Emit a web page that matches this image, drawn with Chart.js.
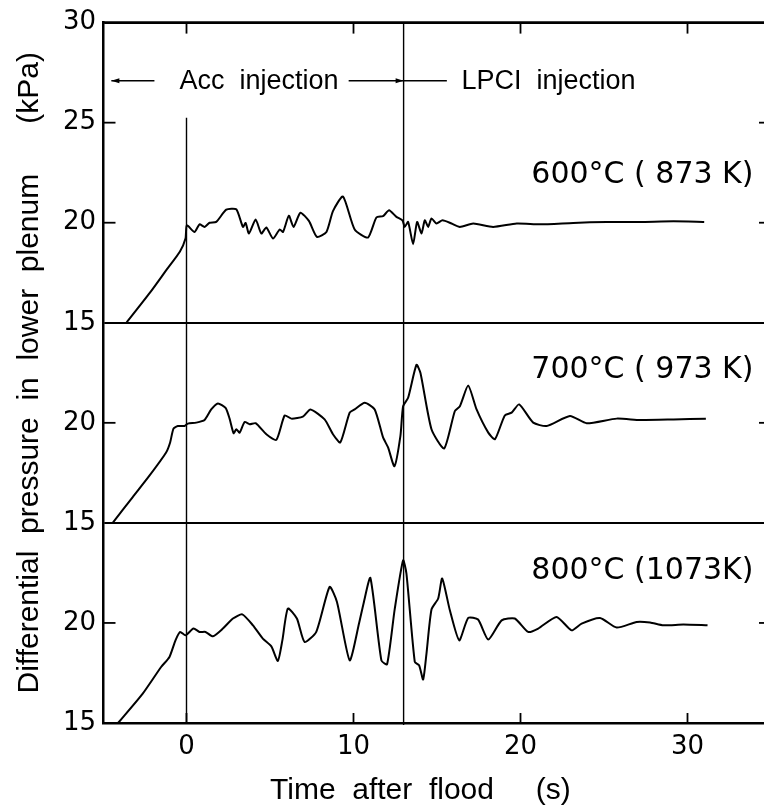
<!DOCTYPE html>
<html>
<head>
<meta charset="utf-8">
<script src="https://cdn.jsdelivr.net/npm/chart.js@4.4.0/dist/chart.umd.min.js"></script>
<style>
html, body { margin: 0; padding: 0; overflow: hidden; background: #fff; }
#wrap { position: relative; width: 772px; height: 809px; }
</style>
</head>
<body>
<div id="wrap"><canvas id="c"></canvas></div>
<script>
// ---------- data ----------
const xTicks = [0, 10, 20, 30];
const topTicks = [15, 20, 25, 30];
const midTicks = [15, 20];
const botTicks = [15, 20];

const t600 = [-3.6, -2.2, -1.2, -0.4, -0.06, 0.02, 0.48, 0.78, 1.08, 1.38, 1.78, 2.38, 2.98, 3.38, 3.54, 3.74, 4.14, 4.48, 4.78, 5.18, 5.58, 5.78, 6.13, 6.41, 6.82, 7.33, 7.81, 8.38, 8.77, 9.37, 10.07, 10.87, 11.37, 11.77, 12.13, 12.57, 12.93, 13.07, 13.27, 13.57, 13.81, 14.07, 14.27, 14.47, 14.67, 14.97, 15.33, 15.87, 16.37, 17.17, 18.36, 19.77, 21.17, 23.16, 25.16, 27.16, 29.16, 31.0];
const p600 = [15.0, 16.49, 17.64, 18.55, 19.21, 19.87, 19.54, 19.92, 19.79, 20.0, 20.04, 20.65, 20.67, 19.79, 19.99, 19.46, 20.16, 19.46, 19.76, 19.21, 19.66, 19.54, 20.35, 19.79, 20.5, 20.09, 19.29, 19.54, 20.58, 21.31, 19.66, 19.26, 20.26, 20.33, 20.62, 20.29, 20.12, 19.79, 20.04, 18.93, 20.04, 19.46, 20.12, 19.79, 20.21, 19.96, 20.12, 19.96, 19.79, 19.96, 19.79, 19.96, 19.92, 19.99, 20.04, 20.04, 20.07, 20.04];

const t700 = [-4.42, -3.22, -2.22, -1.22, -0.98, -0.78, -0.52, -0.12, 0.08, 0.58, 1.08, 1.48, 1.88, 2.34, 2.58, 2.82, 2.98, 3.18, 3.48, 3.78, 4.14, 4.78, 5.38, 5.88, 6.28, 6.97, 7.42, 8.27, 8.77, 9.21, 9.77, 10.07, 10.67, 11.27, 11.77, 12.07, 12.45, 12.81, 12.97, 13.27, 13.77, 14.01, 14.67, 15.43, 16.07, 16.37, 16.87, 17.37, 18.07, 18.47, 19.06, 19.47, 19.92, 20.76, 21.56, 22.96, 23.96, 25.76, 27.16, 29.16, 31.1];
const p700 = [15.0, 16.29, 17.36, 18.52, 19.02, 19.71, 19.84, 19.84, 19.96, 20.01, 20.14, 20.67, 20.97, 20.75, 20.21, 19.48, 19.68, 19.51, 20.04, 19.93, 19.98, 19.43, 19.15, 20.37, 20.21, 20.31, 20.67, 20.17, 19.43, 19.02, 20.51, 20.67, 21.0, 20.67, 19.27, 18.77, 17.83, 19.35, 20.83, 21.25, 22.9, 22.49, 19.68, 18.72, 20.59, 20.83, 21.86, 20.67, 19.51, 19.18, 20.37, 20.51, 20.92, 20.01, 19.84, 20.34, 19.98, 20.21, 20.14, 20.17, 20.21];

const t800 = [-4.1, -2.62, -1.52, -1.02, -0.66, -0.38, -0.06, 0.42, 0.78, 1.14, 1.58, 2.18, 2.78, 3.34, 3.98, 4.57, 5.08, 5.47, 5.74, 6.07, 6.61, 7.07, 7.77, 8.57, 9.01, 9.77, 10.33, 10.61, 11.01, 11.67, 12.01, 12.47, 12.97, 13.17, 13.67, 13.93, 14.17, 14.37, 14.67, 15.07, 15.31, 15.77, 16.33, 16.87, 17.46, 18.07, 18.87, 19.66, 20.46, 21.06, 22.16, 23.06, 23.66, 24.76, 25.76, 26.96, 27.76, 28.56, 29.75, 31.2];
const p800 = [15.0, 16.47, 17.8, 18.3, 19.13, 19.55, 19.38, 19.72, 19.55, 19.55, 19.33, 19.72, 20.22, 20.43, 19.88, 19.22, 18.83, 18.1, 19.13, 20.72, 20.22, 19.05, 19.55, 21.8, 21.05, 18.13, 19.97, 21.0, 22.25, 18.13, 17.93, 20.7, 23.13, 22.47, 18.05, 17.88, 17.17, 18.47, 20.67, 21.22, 22.22, 20.63, 19.13, 20.25, 20.17, 19.17, 20.13, 20.22, 19.55, 19.72, 20.3, 19.63, 19.97, 20.25, 19.77, 20.05, 20.02, 19.88, 19.92, 19.88];

const seriesLabels = ['600\u00B0C ( 873 K)', '700\u00B0C ( 973 K)', '800\u00B0C (1073K)'];
const eventTimes = [0, 13];
const eventLabels = ['Acc  injection', 'LPCI  injection'];
const xTitle = 'Time  after  flood     (s)    ';
const yTitle = 'Differential  pressure  in  lower  plenum      (kPa)';

// ---------- helpers ----------
const pts = (t, p) => t.map((v, i) => ({ x: v, y: p[i] }));
const setTicks = arr => s => { s.ticks = arr.map(v => ({ value: v })); };
const tickFont = { family: 'DejaVu Sans', size: 26 };

const yAxis = (ticksArr, min, max, weight, gridVals) => ({
  type: 'linear', position: 'left', stack: 'panels', stackWeight: weight,
  min: min, max: max,
  afterBuildTicks: setTicks(ticksArr),
  afterFit: s => { s.width = 103; },
  grid: {
    drawTicks: false,
    lineWidth: 2,
    color: c => (c.tick && gridVals.includes(c.tick.value)) ? '#000' : 'rgba(0,0,0,0)'
  },
  border: { display: true, color: '#000', width: 2.5 },
  ticks: { color: '#000', font: tickFont, padding: 7, autoSkip: false }
});

const overlay = {
  id: 'overlay',
  afterDatasetsDraw(chart) {
    const { ctx, chartArea: ca, scales: s } = chart;
    const X = v => s.x.getPixelForValue(v);
    const seg = (x1, y1, x2, y2, w) => {
      ctx.lineWidth = w; ctx.beginPath(); ctx.moveTo(x1, y1); ctx.lineTo(x2, y2); ctx.stroke();
    };
    const head = (xTip, y, dir) => {
      ctx.beginPath(); ctx.moveTo(xTip, y); ctx.lineTo(xTip - dir * 8, y - 2.5); ctx.lineTo(xTip - dir * 8, y + 2.5); ctx.closePath(); ctx.fill();
    };
    ctx.save();
    ctx.strokeStyle = '#000'; ctx.fillStyle = '#000';

    // inward tick marks on the left and right edges of each panel
    ['yTop', 'yMid', 'yBot'].forEach(id => {
      const sc = s[id];
      sc.ticks.filter(t => t.value > sc.min && t.value < sc.max).forEach(t => {
        const py = sc.getPixelForValue(t.value);
        seg(ca.left, py, ca.left + 12.5, py, 1.8);
        seg(ca.right - 12, py, ca.right, py, 1.8);
      });
    });
    // inward x tick marks at top and bottom
    s.x.ticks.forEach(t => {
      const px = X(t.value);
      seg(px, ca.top, px, ca.top + 11, 1.8);
      seg(px, ca.bottom, px, ca.bottom - 10, 1.8);
    });
    // top border
    seg(ca.left, ca.top, ca.right, ca.top, 2.5);

    // event lines
    seg(X(eventTimes[0]), s.yTop.getPixelForValue(25.24), X(eventTimes[0]), ca.bottom, 1.4);
    seg(X(eventTimes[1]), ca.top, X(eventTimes[1]), ca.bottom + 2, 1.4);

    // event annotation arrows
    const yA = s.yTop.getPixelForValue(27.1);
    seg(X(-4.5), yA, X(-1.92), yA, 1.5);
    head(X(-4.5), yA, -1);
    seg(X(9.71), yA, X(15.59), yA, 1.5);
    head(X(eventTimes[1]), yA, 1);

    ctx.font = '27px "Liberation Sans"';
    ctx.textAlign = 'left'; ctx.textBaseline = 'alphabetic';
    const yTxt = s.yTop.getPixelForValue(26.67);
    ctx.fillText(eventLabels[0], X(-0.42), yTxt);
    ctx.fillText(eventLabels[1], X(16.47), yTxt);

    // series labels
    ctx.font = '30px "DejaVu Sans"';
    ctx.textAlign = 'right';
    ctx.fillText(seriesLabels[0], X(33.95), s.yTop.getPixelForValue(22.0));
    ctx.fillText(seriesLabels[1], X(33.95), s.yMid.getPixelForValue(22.24));
    ctx.fillText(seriesLabels[2], X(33.95), s.yBot.getPixelForValue(22.2));

    // y axis title spanning the three panels
    ctx.font = '30px "Liberation Sans"';
    ctx.textAlign = 'center';
    ctx.translate(38, (ca.top + ca.bottom) / 2);
    ctx.rotate(-Math.PI / 2);
    ctx.fillText(yTitle, 0, 0);
    ctx.restore();
  }
};

const lineDs = (t, p, axis) => ({
  data: pts(t, p), yAxisID: axis,
  borderColor: '#000', borderWidth: 2, pointRadius: 0, tension: 0.2, fill: false
});

new Chart(document.getElementById('c'), {
  type: 'line',
  data: {
    datasets: [
      lineDs(t600, p600, 'yTop'),
      lineDs(t700, p700, 'yMid'),
      lineDs(t800, p800, 'yBot')
    ]
  },
  options: {
    responsive: true, maintainAspectRatio: false, animation: false,
    layout: { padding: { top: 21, right: 1, left: 0, bottom: 0 } },
    plugins: { legend: { display: false }, tooltip: { enabled: false } },
    scales: {
      x: {
        type: 'linear', position: 'bottom', min: -5, max: 35,
        afterBuildTicks: setTicks(xTicks),
        afterFit: s => { s.height = 86; },
        grid: { display: false, drawTicks: false },
        border: { display: true, color: '#000', width: 2.5 },
        ticks: { color: '#000', font: tickFont, padding: 9, maxRotation: 0, autoSkip: false },
        title: { display: true, text: xTitle, color: '#000',
                 font: { family: 'Liberation Sans', size: 30 }, padding: { top: 0, bottom: 0 } }
      },
      yBot: yAxis(botTicks, 15, 25, 1, []),
      yMid: yAxis(midTicks, 15, 25, 1, [15]),
      yTop: yAxis(topTicks, 15, 30, 1.5, [15, 30])
    }
  },
  plugins: [overlay]
});
</script>
</body>
</html>
